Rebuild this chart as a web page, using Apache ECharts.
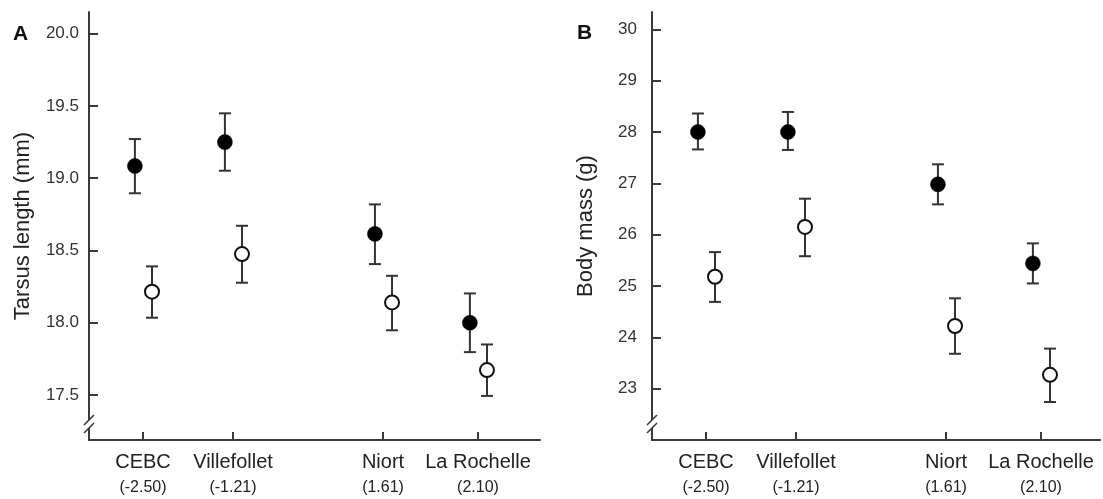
<!DOCTYPE html>
<html>
<head>
<meta charset="utf-8">
<script src="https://cdn.jsdelivr.net/npm/echarts@6/dist/echarts.min.js"></script>
<style>
  html, body { margin: 0; padding: 0; background: #fff; }
  #c { width: 1103px; height: 499px; }
</style>
</head>
<body>
<div id="c"></div>
<script>
// ---- data ----
const sites = ['CEBC', 'Villefollet', 'Niort', 'La Rochelle'];
const siteCodes = ['(-2.50)', '(-1.21)', '(1.61)', '(2.10)'];
const sitePos = [1, 2, 3.667, 4.722];

const tarsusTicks = [17.5, 18.0, 18.5, 19.0, 19.5, 20.0];
const massTicks = [23, 24, 25, 26, 27, 28, 29, 30];

// Panel A: tarsus length (mm)
const tarsusFilledMean = [19.085, 19.25, 18.615, 18.0];
const tarsusFilledLow  = [18.896, 19.052, 18.406, 17.797];
const tarsusFilledHigh = [19.271, 19.449, 18.819, 18.203];
const tarsusOpenMean   = [18.215, 18.475, 18.141, 17.673];
const tarsusOpenLow    = [18.035, 18.277, 17.948, 17.494];
const tarsusOpenHigh   = [18.39, 18.671, 18.325, 17.85];

// Panel B: body mass (g)
const massFilledMean = [28.0, 28.0, 26.98, 25.44];
const massFilledLow  = [27.66, 27.65, 26.59, 25.05];
const massFilledHigh = [28.36, 28.39, 27.37, 25.83];
const massOpenMean   = [25.18, 26.15, 24.22, 23.27];
const massOpenLow    = [24.69, 25.58, 23.68, 22.74];
const massOpenHigh   = [25.66, 26.70, 24.76, 23.78];

// ---- styling / layout ----
const FONT = "'Liberation Sans', Arial, Helvetica, sans-serif";
const AXIS_COLOR = '#3a3a3a';
const DODGE_FILLED = -0.09;
const DODGE_OPEN = 0.1;
const X_MIN = 0.4;

function siteIndex(v) {
  let best = 0;
  for (let i = 1; i < sitePos.length; i++) {
    if (Math.abs(sitePos[i] - v) < Math.abs(sitePos[best] - v)) best = i;
  }
  return best;
}

function makeXAxis(gridIndex, max) {
  return {
    type: 'value', gridIndex, min: X_MIN, max,
    axisLine: { show: true, onZero: false, lineStyle: { color: AXIS_COLOR, width: 2 } },
    axisTick: { show: true, inside: true, length: 8, customValues: sitePos,
      lineStyle: { color: AXIS_COLOR, width: 2 } },
    axisLabel: {
      customValues: sitePos, margin: 10, hideOverlap: false,
      formatter: v => { const i = siteIndex(v); return '{n|' + sites[i] + '}\n{c|' + siteCodes[i] + '}'; },
      rich: {
        n: { fontFamily: FONT, fontSize: 20, lineHeight: 25, color: '#222' },
        c: { fontFamily: FONT, fontSize: 16, lineHeight: 25, color: '#222' }
      }
    },
    splitLine: { show: false }
  };
}

function makeYAxis(gridIndex, min, max, ticks, fmt, name, labelMargin) {
  return {
    type: 'value', gridIndex, min, max,
    axisLine: { show: true, onZero: false, lineStyle: { color: AXIS_COLOR, width: 2 } },
    axisTick: { show: true, inside: true, length: 9, customValues: ticks,
      lineStyle: { color: AXIS_COLOR, width: 2 } },
    axisLabel: { customValues: ticks, formatter: fmt, margin: labelMargin,
      fontFamily: FONT, fontSize: 17, color: '#333' },
    splitLine: { show: false },
    name, nameLocation: 'middle', nameGap: 55,
    nameTextStyle: { fontFamily: FONT, fontSize: 22, color: '#222' }
  };
}

function errorBarSeries(axisIdx, xs, lows, highs) {
  return {
    type: 'custom', xAxisIndex: axisIdx, yAxisIndex: axisIdx, z: 2, silent: true,
    data: xs.map((x, i) => [x, lows[i], highs[i]]),
    encode: { x: 0, y: [1, 2] },
    renderItem: (params, api) => {
      const x = api.value(0);
      const lo = api.coord([x, api.value(1)]);
      const hi = api.coord([x, api.value(2)]);
      const w = 6;
      const style = { stroke: '#333', lineWidth: 2 };
      return {
        type: 'group',
        children: [
          { type: 'line', shape: { x1: lo[0], y1: lo[1], x2: hi[0], y2: hi[1] }, style },
          { type: 'line', shape: { x1: hi[0] - w, y1: hi[1], x2: hi[0] + w, y2: hi[1] }, style },
          { type: 'line', shape: { x1: lo[0] - w, y1: lo[1], x2: lo[0] + w, y2: lo[1] }, style }
        ]
      };
    }
  };
}

function pointSeries(axisIdx, xs, means, filled) {
  return {
    type: 'scatter', xAxisIndex: axisIdx, yAxisIndex: axisIdx, z: 3, silent: true,
    symbol: 'circle', symbolSize: filled ? 15 : 14,
    itemStyle: filled
      ? { color: '#000', borderColor: '#000', borderWidth: 0.5, opacity: 1 }
      : { color: '#fff', borderColor: '#111', borderWidth: 2, opacity: 1 },
    emphasis: { disabled: true },
    data: xs.map((x, i) => [x, means[i]])
  };
}

function breakSeries(axisIdx, xMin, yMin) {
  return {
    type: 'custom', xAxisIndex: axisIdx, yAxisIndex: axisIdx, z: 5, silent: true, clip: false,
    data: [[xMin, yMin]],
    renderItem: (params, api) => {
      const p = api.coord([api.value(0), api.value(1)]);
      const cx = p[0], cy = p[1] - 16;
      const s = { stroke: AXIS_COLOR, lineWidth: 1.6 };
      return {
        type: 'group',
        children: [
          { type: 'rect', shape: { x: cx - 3, y: cy - 4, width: 6, height: 8 }, style: { fill: '#fff' } },
          { type: 'line', shape: { x1: cx - 5, y1: cy - 4 + 5, x2: cx + 5, y2: cy - 4 - 5 }, style: s },
          { type: 'line', shape: { x1: cx - 5, y1: cy + 4 + 5, x2: cx + 5, y2: cy + 4 - 5 }, style: s }
        ]
      };
    }
  };
}

const xFilled = sitePos.map(p => p + DODGE_FILLED);
const xOpen = sitePos.map(p => p + DODGE_OPEN);

const yMinA = 17.189, yMaxA = 20.15;
const yMinB = 22, yMaxB = 30.337;
const xMaxA = X_MIN + 451 / 90, xMaxB = X_MIN + 448 / 90;

const option = {
  animation: false,
  backgroundColor: '#fff',
  grid: [
    { left: 89, top: 12, width: 451, height: 428, outerBoundsMode: 'none' },
    { left: 652, top: 12, width: 448, height: 428, outerBoundsMode: 'none' }
  ],
  xAxis: [makeXAxis(0, xMaxA), makeXAxis(1, xMaxB)],
  yAxis: [
    makeYAxis(0, yMinA, yMaxA, tarsusTicks, v => Number(v).toFixed(1), 'Tarsus length (mm)', 10),
    makeYAxis(1, yMinB, yMaxB, massTicks, v => String(Math.round(v)), 'Body mass (g)', 15)
  ],
  graphic: [
    { type: 'text', left: 13, top: 24, style: { text: 'A', font: 'bold 21px ' + FONT, fill: '#111' } },
    { type: 'text', left: 577, top: 23, style: { text: 'B', font: 'bold 21px ' + FONT, fill: '#111' } }
  ],
  series: [
    errorBarSeries(0, xFilled, tarsusFilledLow, tarsusFilledHigh),
    errorBarSeries(0, xOpen, tarsusOpenLow, tarsusOpenHigh),
    pointSeries(0, xFilled, tarsusFilledMean, true),
    pointSeries(0, xOpen, tarsusOpenMean, false),
    errorBarSeries(1, xFilled, massFilledLow, massFilledHigh),
    errorBarSeries(1, xOpen, massOpenLow, massOpenHigh),
    pointSeries(1, xFilled, massFilledMean, true),
    pointSeries(1, xOpen, massOpenMean, false),
    breakSeries(0, X_MIN, yMinA),
    breakSeries(1, X_MIN, yMinB)
  ]
};

const chart = echarts.init(document.getElementById('c'), null, { renderer: 'canvas' });
chart.setOption(option);
</script>
</body>
</html>
